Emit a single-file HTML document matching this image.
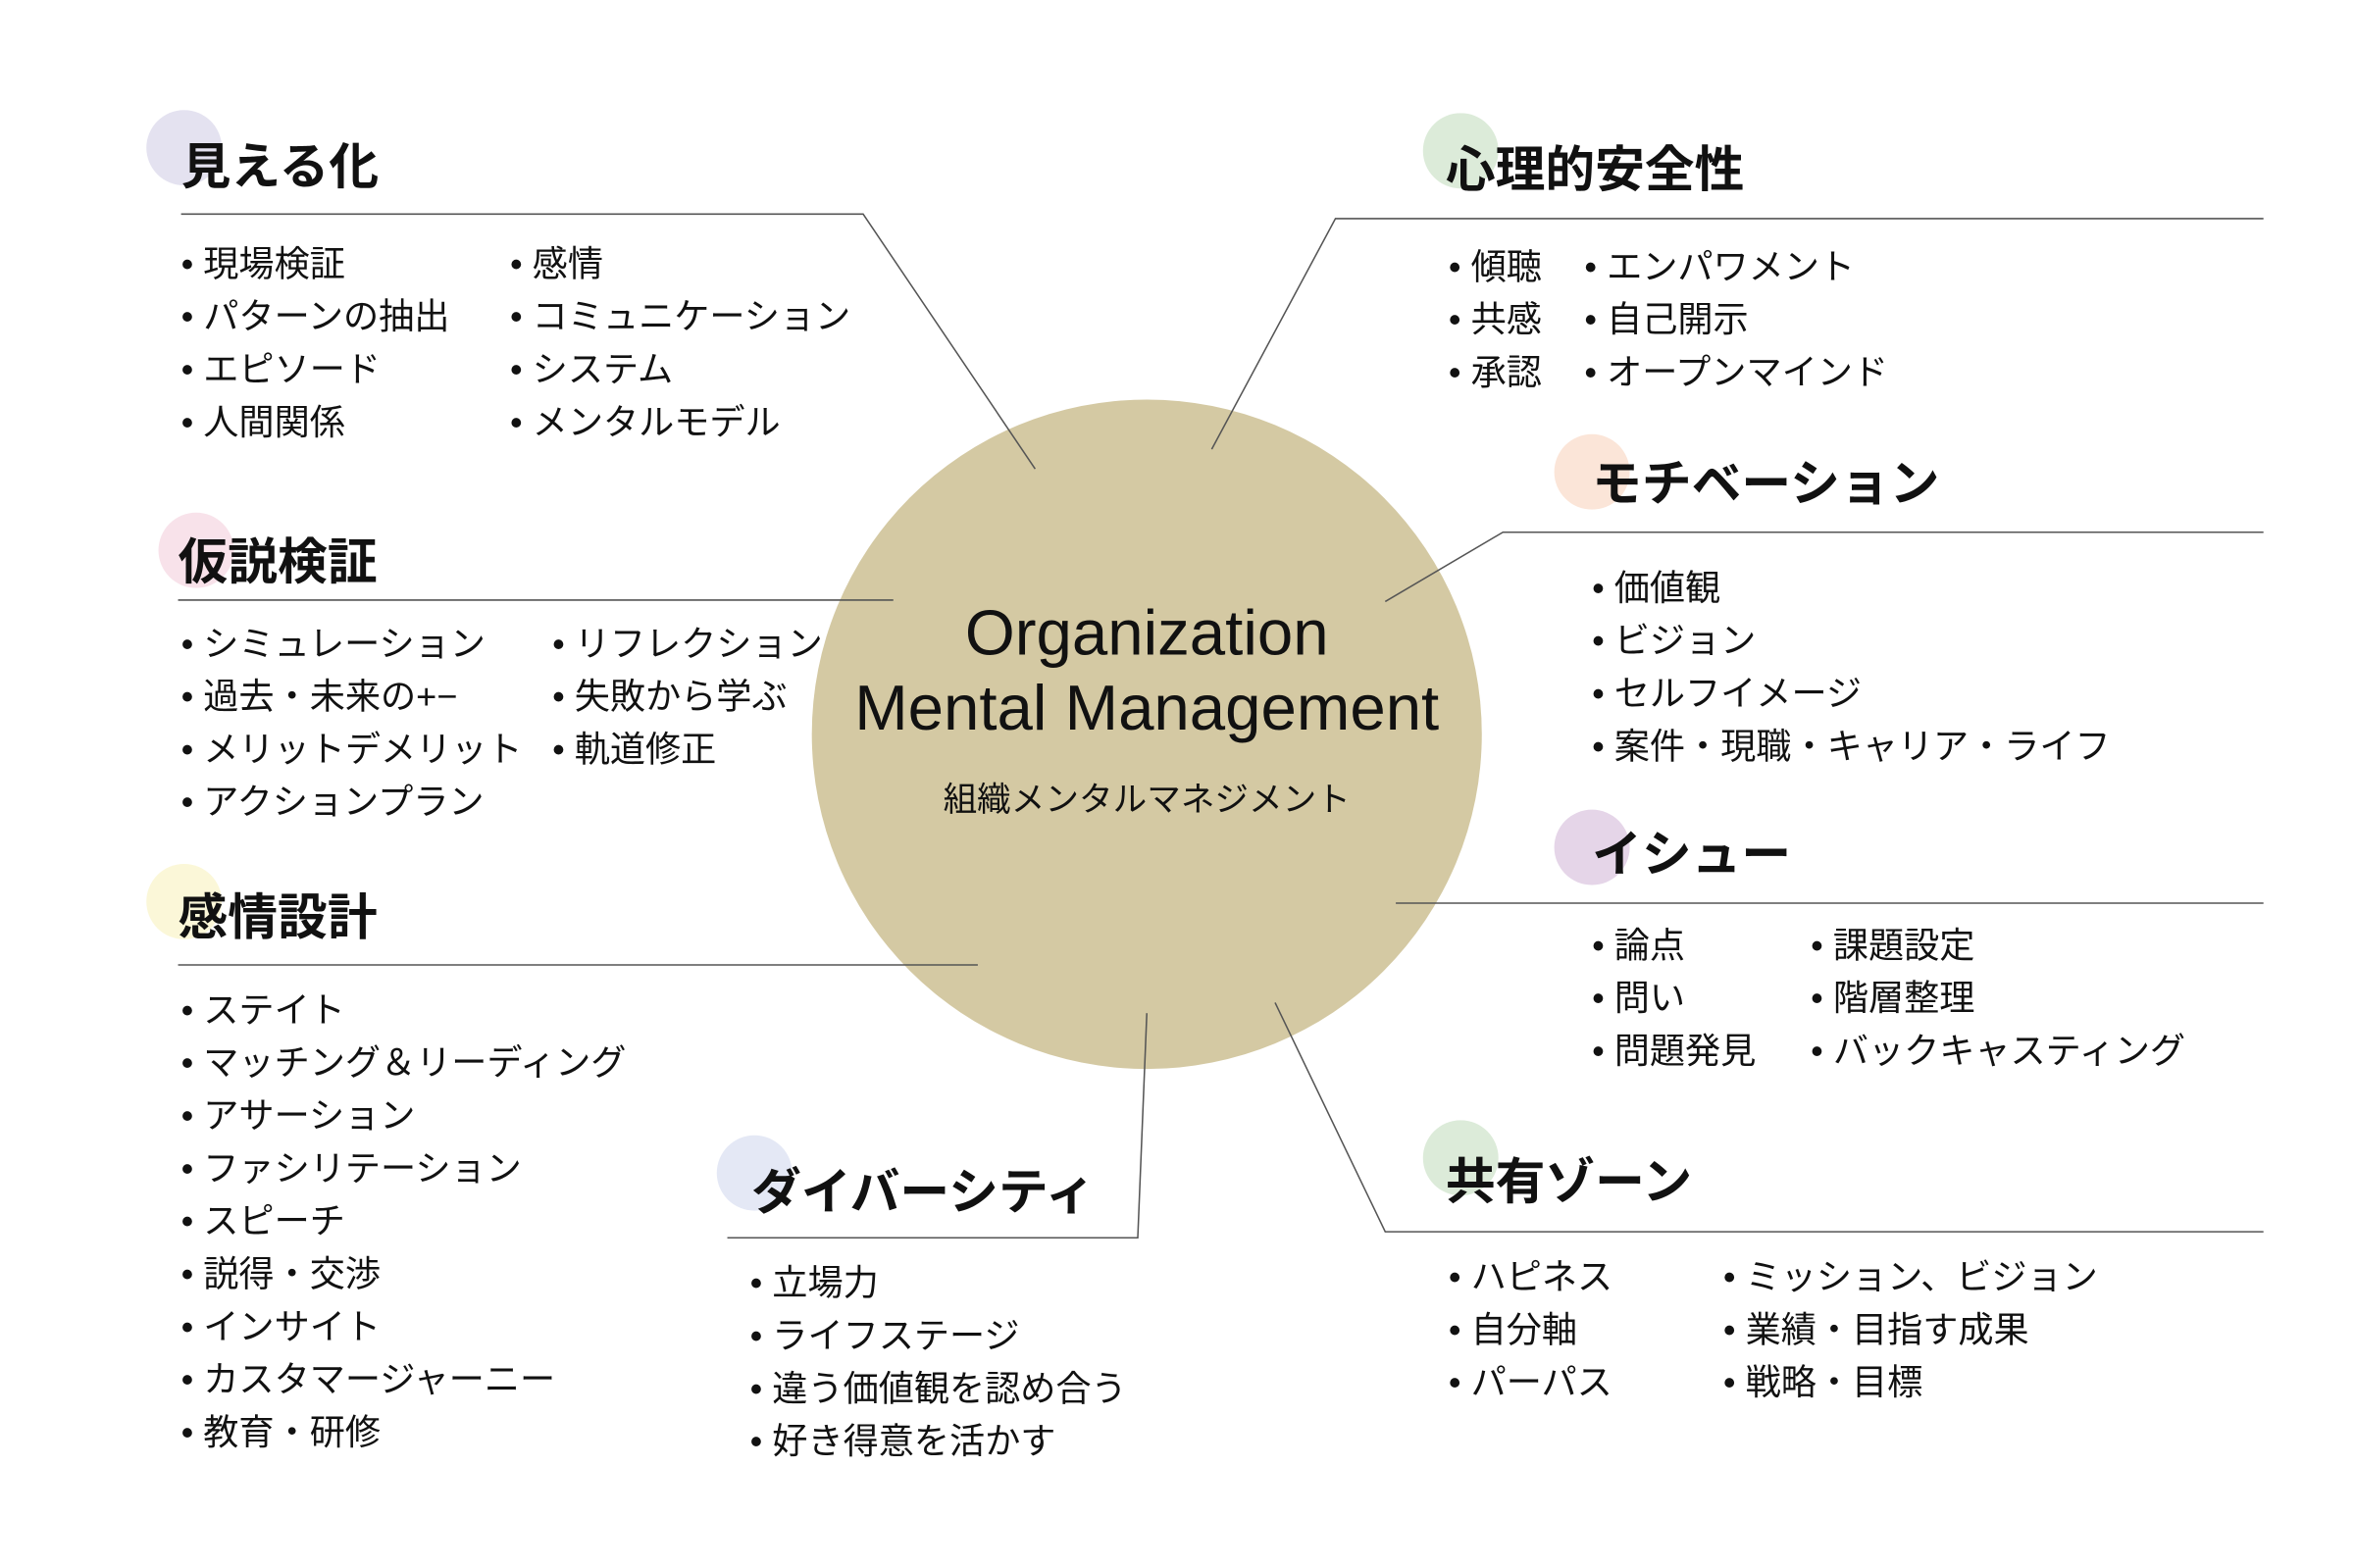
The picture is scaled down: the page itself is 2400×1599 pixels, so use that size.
<!DOCTYPE html>
<html><head><meta charset="utf-8"><style>
html,body{margin:0;padding:0;background:#fff;}
svg{display:block;}
text{font-family:"Liberation Sans","Noto Sans CJK JP",sans-serif;fill:#111;}
.h{font-size:33px;font-weight:bold;}
.i{font-size:23.5px;}
line,polyline{stroke:#555;stroke-width:1;fill:none;}
</style></head><body>
<svg width="2400" height="1599" viewBox="0 0 1560 1040" preserveAspectRatio="none" xmlns="http://www.w3.org/2000/svg">
<rect width="1560" height="1040" fill="#fff"/>
<circle cx="760" cy="487" r="222" fill="#d4c9a3"/>
<text x="760" y="434" text-anchor="middle" style="font-size:42.5px">Organization</text>
<text x="760" y="484" text-anchor="middle" style="font-size:42.5px">Mental Management</text>
<text x="760" y="538" text-anchor="middle" style="font-size:22.5px">組織メンタルマネジメント</text>

<ellipse cx="122" cy="98" rx="25" ry="25" fill="#e4e2f0"/>
<ellipse cx="968" cy="100" rx="25" ry="25" fill="#dcebd9"/>
<ellipse cx="1055" cy="313" rx="25" ry="25" fill="#fbe5d8"/>
<ellipse cx="130" cy="365" rx="25" ry="25" fill="#f8e2ea"/>
<ellipse cx="1055" cy="562" rx="25" ry="25" fill="#e5d5e8"/>
<ellipse cx="122" cy="598" rx="25" ry="25" fill="#fbf7d8"/>
<ellipse cx="500" cy="778" rx="25" ry="25" fill="#e4e8f5"/>
<ellipse cx="968" cy="768" rx="25" ry="25" fill="#dcebd9"/>

<polyline points="120,142 572,142 686,311"/>
<polyline points="1500,145 885,145 803,298"/>
<polyline points="1500,353 996,353 918,399"/>
<line x1="118" y1="398" x2="592" y2="398"/>
<line x1="925" y1="599" x2="1500" y2="599"/>
<line x1="118" y1="640" x2="648" y2="640"/>
<polyline points="482,821 754,821 760,672"/>
<polyline points="1500,817 918,817 845,665"/>

<text class="h" x="120" y="122">見える化</text>
<text class="h" x="958" y="124">心理的安全性</text>
<text class="h" x="1055" y="332">モチベーション</text>
<text class="h" x="118" y="384">仮説検証</text>
<text class="h" x="1055" y="578">イシュー</text>
<text class="h" x="118" y="620">感情設計</text>
<text class="h" x="498" y="802">ダイバーシティ</text>
<text class="h" x="958" y="795">共有ゾーン</text>

<text class="i" x="120" y="183">• 現場検証</text>
<text class="i" x="120" y="218">• パターンの抽出</text>
<text class="i" x="120" y="253">• エピソード</text>
<text class="i" x="120" y="288">• 人間関係</text>
<text class="i" x="338" y="183">• 感情</text>
<text class="i" x="338" y="218">• コミュニケーション</text>
<text class="i" x="338" y="253">• システム</text>
<text class="i" x="338" y="288">• メンタルモデル</text>

<text class="i" x="960" y="185">• 傾聴</text>
<text class="i" x="960" y="220">• 共感</text>
<text class="i" x="960" y="255">• 承認</text>
<text class="i" x="1050" y="185">• エンパワメント</text>
<text class="i" x="1050" y="220">• 自己開示</text>
<text class="i" x="1050" y="255">• オープンマインド</text>

<text class="i" x="1055" y="398">• 価値観</text>
<text class="i" x="1055" y="433">• ビジョン</text>
<text class="i" x="1055" y="468">• セルフイメージ</text>
<text class="i" x="1055" y="503">• 案件・現職・キャリア・ライフ</text>

<text class="i" x="120" y="435">• シミュレーション</text>
<text class="i" x="120" y="470">• 過去・未来の+−</text>
<text class="i" x="120" y="505">• メリットデメリット</text>
<text class="i" x="120" y="540">• アクションプラン</text>
<text class="i" x="366" y="435">• リフレクション</text>
<text class="i" x="366" y="470">• 失敗から学ぶ</text>
<text class="i" x="366" y="505">• 軌道修正</text>

<text class="i" x="1055" y="635">• 論点</text>
<text class="i" x="1055" y="670">• 問い</text>
<text class="i" x="1055" y="705">• 問題発見</text>
<text class="i" x="1200" y="635">• 課題設定</text>
<text class="i" x="1200" y="670">• 階層整理</text>
<text class="i" x="1200" y="705">• バックキャスティング</text>

<text class="i" x="120" y="678">• ステイト</text>
<text class="i" x="120" y="713">• マッチング＆リーディング</text>
<text class="i" x="120" y="748">• アサーション</text>
<text class="i" x="120" y="783">• ファシリテーション</text>
<text class="i" x="120" y="818">• スピーチ</text>
<text class="i" x="120" y="853">• 説得・交渉</text>
<text class="i" x="120" y="888">• インサイト</text>
<text class="i" x="120" y="923">• カスタマージャーニー</text>
<text class="i" x="120" y="958">• 教育・研修</text>

<text class="i" x="497" y="859">• 立場力</text>
<text class="i" x="497" y="894">• ライフステージ</text>
<text class="i" x="497" y="929">• 違う価値観を認め合う</text>
<text class="i" x="497" y="964">• 好き得意を活かす</text>

<text class="i" x="960" y="855">• ハピネス</text>
<text class="i" x="960" y="890">• 自分軸</text>
<text class="i" x="960" y="925">• パーパス</text>
<text class="i" x="1142" y="855">• ミッション、ビジョン</text>
<text class="i" x="1142" y="890">• 業績・目指す成果</text>
<text class="i" x="1142" y="925">• 戦略・目標</text>
</svg>
</body></html>
